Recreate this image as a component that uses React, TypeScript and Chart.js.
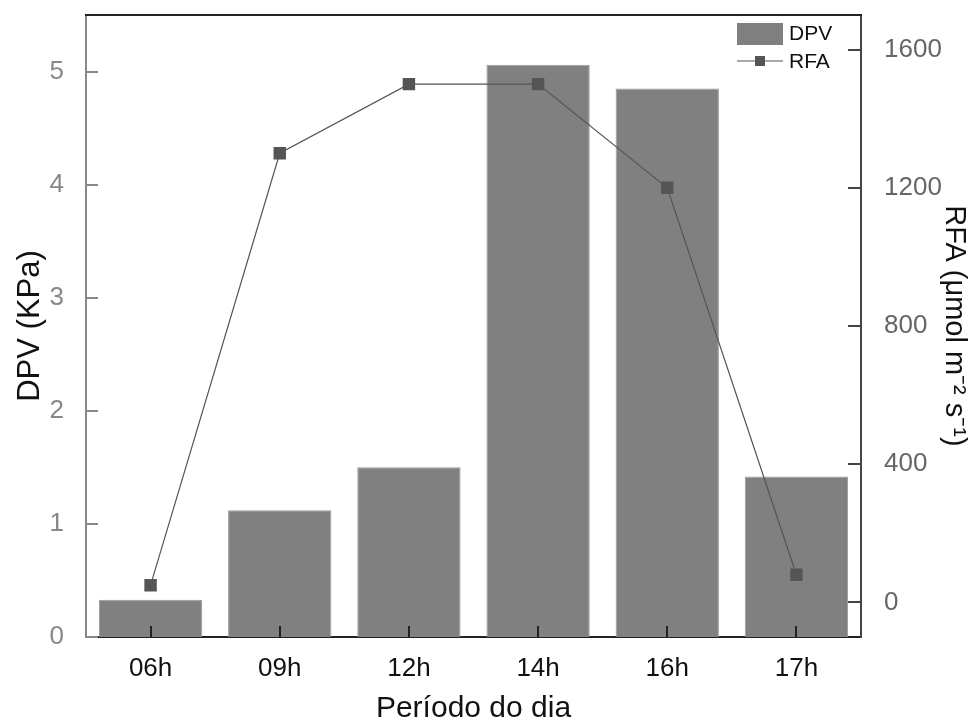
import React, { useEffect, useRef } from "react";
import { Chart, registerables } from "chart.js";

Chart.register(...registerables);

const categories = ["06h", "09h", "12h", "14h", "16h", "17h"];
const dpvValues = [0.33, 1.12, 1.5, 5.06, 4.85, 1.42];
const rfaValues = [50, 1300, 1500, 1500, 1200, 80];
const dpvTicks = [0, 1, 2, 3, 4, 5];
const rfaTicks = [0, 400, 800, 1200, 1600];

const FONT = "'Liberation Sans', Arial, sans-serif";
const BAR_COLOR = "#808080";
const LINE_COLOR = "#555555";

const framePlugin = {
  id: "frameAndTicks",
  afterDraw(chart: any) {
    const { ctx, chartArea } = chart;
    const { left, right, top, bottom } = chartArea;
    const x = chart.scales.x;
    const y = chart.scales.y;
    const y1 = chart.scales.y1;
    ctx.save();
    ctx.strokeStyle = "#222";
    ctx.lineWidth = 2;
    ctx.beginPath();
    ctx.moveTo(left - 1, top);
    ctx.lineTo(right + 1, top);
    ctx.stroke();
    categories.forEach((_, i) => {
      const px = Math.round(x.getPixelForTick(i));
      ctx.beginPath();
      ctx.moveTo(px, bottom);
      ctx.lineTo(px, bottom - 11);
      ctx.stroke();
    });
    ctx.strokeStyle = "#888";
    dpvTicks.forEach((v) => {
      const py = Math.round(y.getPixelForValue(v));
      ctx.beginPath();
      ctx.moveTo(left, py);
      ctx.lineTo(left + 12, py);
      ctx.stroke();
    });
    ctx.strokeStyle = "#444";
    rfaTicks.forEach((v) => {
      const py = Math.round(y1.getPixelForValue(v));
      ctx.beginPath();
      ctx.moveTo(right, py);
      ctx.lineTo(right - 13, py);
      ctx.stroke();
    });
    const lx = right - 124;
    const ly = top + 8;
    ctx.fillStyle = BAR_COLOR;
    ctx.fillRect(lx, ly, 46, 22);
    ctx.strokeStyle = LINE_COLOR;
    ctx.lineWidth = 1.2;
    ctx.beginPath();
    ctx.moveTo(lx, ly + 38);
    ctx.lineTo(lx + 46, ly + 38);
    ctx.stroke();
    ctx.fillStyle = LINE_COLOR;
    ctx.fillRect(lx + 18, ly + 33, 10, 10);
    ctx.fillStyle = "#111";
    ctx.font = `21px ${FONT}`;
    ctx.textBaseline = "middle";
    ctx.textAlign = "left";
    ctx.fillText("DPV", lx + 52, ly + 11);
    ctx.fillText("RFA", lx + 52, ly + 39);
    ctx.restore();
  },
};

export default function App() {
  const ref = useRef<HTMLCanvasElement | null>(null);

  useEffect(() => {
    if (!ref.current) return;
    const chart = new Chart(ref.current, {
      type: "bar",
      data: {
        labels: categories,
        datasets: [
          {
            type: "bar",
            label: "DPV",
            data: dpvValues,
            backgroundColor: BAR_COLOR,
            borderColor: "#9a9a9a",
            borderWidth: 1,
            categoryPercentage: 0.8,
            barPercentage: 1.0,
            yAxisID: "y",
            order: 2,
          },
          {
            type: "line",
            label: "RFA",
            data: rfaValues,
            borderColor: LINE_COLOR,
            borderWidth: 1.2,
            pointStyle: "rect",
            pointRadius: 8.8,
            pointBackgroundColor: LINE_COLOR,
            pointBorderColor: LINE_COLOR,
            pointBorderWidth: 0,
            tension: 0,
            yAxisID: "y1",
            order: 1,
          } as any,
        ],
      },
      options: {
        responsive: false,
        animation: false,
        devicePixelRatio: 1,
        layout: { padding: { top: 15, left: 0, right: 0, bottom: 0 } },
        plugins: {
          legend: { display: false },
          tooltip: { enabled: false },
        },
        scales: {
          x: {
            type: "category",
            offset: true,
            grid: { display: false },
            border: { display: true, color: "#222", width: 2 },
            ticks: {
              color: "#111",
              font: { family: FONT, size: 26 },
              padding: 8,
              maxRotation: 0,
            },
            title: {
              display: true,
              text: "Período do dia",
              color: "#111",
              font: { family: FONT, size: 30, lineHeight: 1 },
              padding: { top: 0, bottom: 0 },
            },
            afterFit(scale: any) {
              scale.height = 87;
              scale.paddingLeft = 0;
              scale.paddingRight = 0;
            },
          },
          y: {
            type: "linear",
            position: "left",
            min: 0,
            max: 5.5,
            grid: { display: false },
            border: { display: true, color: "#888", width: 2 },
            ticks: {
              color: "#888",
              font: { family: FONT, size: 26 },
              padding: 14,
              callback: (v: any) => String(v),
            },
            afterBuildTicks(scale: any) {
              scale.ticks = dpvTicks.map((v) => ({ value: v }));
            },
            title: {
              display: true,
              text: "DPV (KPa)",
              color: "#111",
              font: { family: FONT, size: 31, lineHeight: 1 },
              padding: { top: 15, bottom: 0 },
            },
            afterFit(scale: any) {
              scale.width = 86;
              scale.paddingTop = 0;
              scale.paddingBottom = 0;
            },
          },
          y1: {
            type: "linear",
            position: "right",
            min: -100,
            max: 1700,
            grid: { display: false },
            border: { display: true, color: "#444", width: 2 },
            ticks: {
              color: "#666",
              font: { family: FONT, size: 26 },
              padding: 15,
              callback: (v: any) => String(v),
            },
            afterBuildTicks(scale: any) {
              scale.ticks = rfaTicks.map((v) => ({ value: v }));
            },
            title: {
              display: true,
              text: "RFA (μmol m⁻² s⁻¹)",
              color: "#111",
              font: { family: FONT, size: 29, lineHeight: 1 },
              padding: { top: 10, bottom: 0 },
            },
            afterFit(scale: any) {
              scale.width = 117;
              scale.paddingTop = 0;
              scale.paddingBottom = 0;
            },
          },
        },
      } as any,
      plugins: [framePlugin],
    });
    return () => chart.destroy();
  }, []);

  return (
    <div style={{ position: "fixed", left: 0, top: 0, width: 978, height: 724, background: "#fff" }}>
      <canvas ref={ref} width={978} height={724} style={{ width: 978, height: 724, display: "block" }} />
    </div>
  );
}
